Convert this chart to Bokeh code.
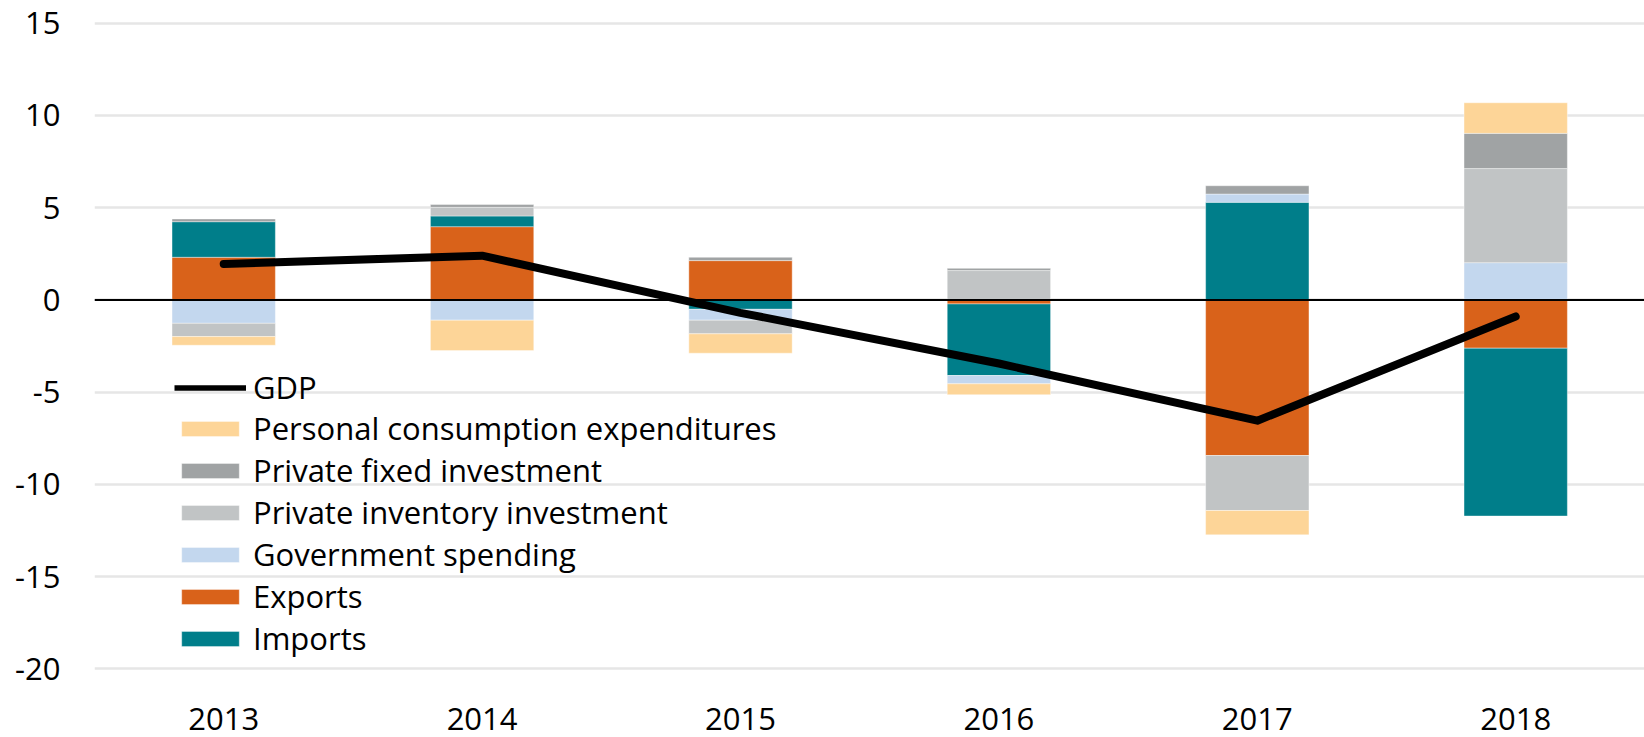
from bokeh.plotting import figure
from bokeh.models import (ColumnDataSource, Range1d, FixedTicker, Span, Legend, LegendItem)
from bokeh.embed import file_html
from bokeh.resources import INLINE

# ---- data ----
years = ["2013", "2014", "2015", "2016", "2017", "2018"]
pce = [-0.47, -1.65, -1.05, -0.59, -1.32, 1.66]
pfi = [0.15, 0.15, 0.18, 0.12, 0.45, 1.91]
pii = [-0.72, 0.47, -0.74, 1.59, -2.98, 5.10]
gov = [-1.27, -1.10, -0.59, -0.45, 0.45, 2.02]
exports = [2.31, 3.97, 2.13, -0.22, -8.44, -2.62]
imports = [1.93, 0.58, -0.51, -3.88, 5.29, -9.10]
gdp = [1.95, 2.40, -0.70, -3.45, -6.55, -0.90]
y_ticks = [-20, -15, -10, -5, 0, 5, 10, 15]

series_names = ["Exports", "Imports", "Government spending", "Private inventory investment",
                "Private fixed investment", "Personal consumption expenditures"]
series_vals = [exports, imports, gov, pii, pfi, pce]
series_colors = ["#D9621A", "#007E8A", "#C3D7EE", "#C1C4C5", "#A0A3A4", "#FDD598"]

FONT = "Open Sans"
FS = "31px"

x_idx = list(range(len(years)))
p = figure(width=1644, height=737, output_backend="svg", toolbar_location=None,
           x_range=Range1d(-0.5, -0.5 + 1550 / 258.4), y_range=Range1d(-20.15, 15.15),
           min_border_left=94, min_border_right=0, min_border_top=20, min_border_bottom=66)
p.outline_line_color = None
p.background_fill_color = "white"
p.border_fill_color = "white"

# stacked bars (positive and negative stacks separately)
pos = [0.0] * len(years)
neg = [0.0] * len(years)
bar_renderers = {}
for name, vals, col in zip(series_names, series_vals, series_colors):
    bottoms, tops = [], []
    for i, v in enumerate(vals):
        if v >= 0:
            bottoms.append(pos[i]); tops.append(pos[i] + v); pos[i] += v
        else:
            bottoms.append(neg[i]); tops.append(neg[i] + v); neg[i] += v
    src = ColumnDataSource(dict(x=x_idx, bottom=bottoms, top=tops))
    r = p.vbar(x="x", width=0.4, bottom="bottom", top="top", source=src,
               fill_color=col, line_color="white", line_width=0.8, line_alpha=0.5)
    bar_renderers[name] = r

p.add_layout(Span(location=0, dimension="width", line_color="black", line_width=2))

gdp_src = ColumnDataSource(dict(x=x_idx, y=gdp))
gdp_r = p.line(x="x", y="y", source=gdp_src, line_color="black", line_width=8,
               line_cap="round", line_join="round")
# thinner proxy line used only for the legend sample (no visible data)
gdp_proxy = p.line(x=[float("nan")], y=[float("nan")], line_color="black", line_width=5.5)

# axes
p.xaxis.ticker = FixedTicker(ticks=x_idx)
p.xaxis.major_label_overrides = {i: y for i, y in enumerate(years)}
p.yaxis.ticker = FixedTicker(ticks=y_ticks)
p.yaxis.major_label_overrides = {t: str(t) for t in y_ticks}
for ax in (p.xaxis[0], p.yaxis[0]):
    ax.axis_line_color = None
    ax.major_tick_line_color = None
    ax.minor_tick_line_color = None
    ax.major_tick_out = 0
    ax.major_tick_in = 0
    ax.major_label_text_font = FONT
    ax.major_label_text_font_size = FS
    ax.major_label_text_color = "black"
p.yaxis.major_label_standoff = 34
p.xaxis.major_label_standoff = 36

p.xgrid.grid_line_color = None
p.ygrid.ticker = FixedTicker(ticks=y_ticks)
p.ygrid.grid_line_color = "#E6E6E6"
p.ygrid.grid_line_width = 2.5

# legends
def style(leg):
    leg.border_line_color = None
    leg.background_fill_alpha = 0
    leg.padding = 0
    leg.margin = 0
    leg.glyph_width = 72
    leg.glyph_height = 19
    leg.label_standoff = 7
    leg.label_text_font = FONT
    leg.label_text_font_size = FS
    leg.label_text_color = "black"
    leg.label_height = 30
    leg.spacing = 0

leg1 = Legend(items=[LegendItem(label="GDP", renderers=[gdp_proxy])], location=(80, 263))
style(leg1)
order = ["Personal consumption expenditures", "Private fixed investment",
         "Private inventory investment", "Government spending", "Exports", "Imports"]
leg2 = Legend(items=[LegendItem(label=n, renderers=[bar_renderers[n]]) for n in order],
              location=(80, 12))
style(leg2)
p.add_layout(leg1, "center")
p.add_layout(leg2, "center")

open("out.html", "w").write(file_html(p, INLINE))
